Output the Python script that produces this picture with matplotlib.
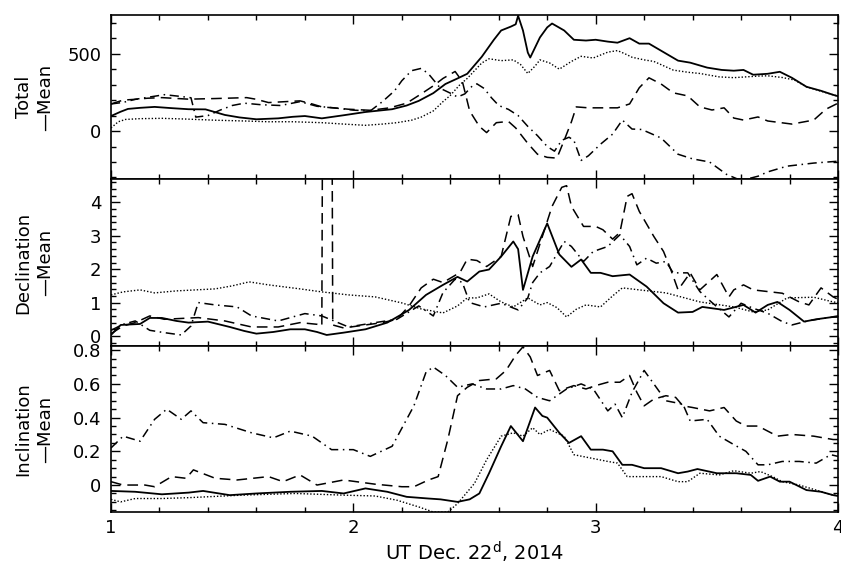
import numpy as np
import matplotlib
matplotlib.use("Agg")
import matplotlib.pyplot as plt
from matplotlib.ticker import MultipleLocator

plt.rcParams['font.family'] = ['DejaVu Sans']

# ---- Total - Mean ----
tot_solid_x = [1.00, 1.04, 1.07, 1.12, 1.18, 1.25, 1.32, 1.39, 1.43, 1.47, 1.53, 1.60, 1.69, 1.75, 1.80, 1.87,
               1.96, 2.05, 2.16, 2.22, 2.27, 2.33, 2.38, 2.43, 2.47, 2.53, 2.58, 2.61, 2.65, 2.67, 2.68, 2.70,
               2.72, 2.73, 2.77, 2.80, 2.82, 2.87, 2.91, 2.96, 3.00, 3.05, 3.09, 3.14, 3.18, 3.22, 3.28, 3.34,
               3.39, 3.46, 3.52, 3.57, 3.61, 3.65, 3.71, 3.76, 3.81, 3.87, 3.93, 3.98, 4.00]
tot_solid_y = [97, 125, 143, 150, 156, 148, 141, 140, 122, 104, 88, 76, 82, 92, 97, 82,
               102, 123, 141, 165, 195, 245, 304, 340, 370, 480, 590, 650, 675, 690, 745, 650,
               507, 475, 605, 670, 695, 650, 590, 585, 590, 578, 571, 600, 565, 565, 510, 455,
               442, 410, 395, 390, 395, 364, 370, 383, 344, 286, 260, 234, 225]

tot_dot_x = [1.00, 1.03, 1.06, 1.12, 1.21, 1.30, 1.43, 1.55, 1.65, 1.75, 1.87, 1.96, 2.05, 2.12, 2.18, 2.24,
             2.28, 2.33, 2.37, 2.40, 2.44, 2.47, 2.50, 2.53, 2.56, 2.61, 2.66, 2.69, 2.72, 2.75, 2.77, 2.81,
             2.85, 2.90, 2.94, 2.99, 3.05, 3.09, 3.12, 3.15, 3.20, 3.24, 3.32, 3.38, 3.43, 3.51, 3.57, 3.62,
             3.67, 3.71, 3.77, 3.82, 3.87, 3.92, 3.98, 4.00]
tot_dot_y = [20, 60, 75, 80, 82, 78, 70, 65, 60, 60, 54, 45, 37, 45, 54, 70,
             90, 130, 190, 230, 300, 340, 390, 440, 467, 455, 460, 430, 372, 420, 460, 440,
             400, 450, 483, 472, 510, 520, 500, 477, 460, 450, 394, 380, 372, 350, 345, 350,
             355, 357, 346, 330, 286, 262, 234, 225]

tot_dash_x = [1.00, 1.05, 1.10, 1.15, 1.21, 1.32, 1.43, 1.56, 1.60, 1.65, 1.72, 1.78, 1.83, 1.87, 1.93, 1.98,
              2.07, 2.15, 2.22, 2.28, 2.33, 2.37, 2.42, 2.45, 2.48, 2.52, 2.55, 2.59, 2.64, 2.67, 2.72, 2.76,
              2.80, 2.84, 2.87, 2.90, 2.92, 2.97, 3.02, 3.09, 3.14, 3.18, 3.22, 3.27, 3.32, 3.38, 3.43, 3.48,
              3.53, 3.57, 3.61, 3.67, 3.71, 3.81, 3.90, 3.95, 4.00]
tot_dash_y = [175, 200, 205, 212, 216, 206, 210, 216, 205, 184, 190, 195, 175, 156, 148, 141,
              134, 150, 180, 240, 292, 340, 385, 320, 130, 30, -10, 54, 62, 20, -80, -150,
              -170, -175, -60, 60, 156, 150, 150, 150, 175, 280, 344, 304, 247, 227, 156, 136,
              150, 84, 71, 91, 65, 45, 71, 141, 180]

tot_dd_x = [1.00, 1.05, 1.10, 1.16, 1.22, 1.28, 1.33, 1.35, 1.40, 1.45, 1.50, 1.55, 1.62, 1.70, 1.78, 1.85,
            1.92, 2.00, 2.07, 2.12, 2.17, 2.20, 2.24, 2.28, 2.31, 2.36, 2.40, 2.43, 2.46, 2.49, 2.51, 2.54,
            2.57, 2.60, 2.64, 2.68, 2.72, 2.76, 2.80, 2.83, 2.86, 2.89, 2.91, 2.94, 2.97, 3.02, 3.07, 3.11,
            3.15, 3.19, 3.27, 3.34, 3.40, 3.47, 3.54, 3.60, 3.67, 3.71, 3.79, 3.90, 4.00]
tot_dd_y = [175, 185, 205, 220, 235, 225, 215, 90, 100, 135, 165, 180, 170, 165, 190, 160,
            150, 135, 130, 190, 260, 325, 390, 405, 370, 275, 245, 220, 240, 290, 305, 275,
            215, 165, 140, 100, 30, -30, -100, -130, -60, -40, -60, -190, -160, -85, -20, 71,
            13, 10, -45, -150, -180, -200, -280, -320, -292, -264, -227, -207, -195]

# ---- Declination - Mean ----
dec_solid_x = [1.00, 1.04, 1.12, 1.16, 1.21, 1.27, 1.32, 1.40, 1.49, 1.55, 1.60, 1.67, 1.74, 1.80, 1.85, 1.89,
               1.96, 2.05, 2.14, 2.20, 2.23, 2.30, 2.37, 2.43, 2.47, 2.52, 2.56, 2.61, 2.66, 2.68, 2.70, 2.74,
               2.80, 2.85, 2.90, 2.94, 2.98, 3.02, 3.07, 3.14, 3.21, 3.28, 3.34, 3.40, 3.44, 3.53, 3.61, 3.66,
               3.71, 3.75, 3.80, 3.86, 3.91, 3.98, 4.00]
dec_solid_y = [0.03, 0.33, 0.36, 0.54, 0.54, 0.45, 0.40, 0.43, 0.27, 0.15, 0.07, 0.12, 0.20, 0.20, 0.12, 0.03,
               0.10, 0.20, 0.40, 0.65, 0.78, 1.23, 1.53, 1.77, 1.63, 1.93, 1.99, 2.38, 2.83, 2.60, 1.38, 2.38,
               3.37, 2.44, 2.07, 2.29, 1.89, 1.89, 1.79, 1.84, 1.48, 0.98, 0.70, 0.72, 0.87, 0.78, 0.93, 0.70,
               0.93, 1.02, 0.78, 0.43, 0.50, 0.57, 0.57]

dec_dot_x = [1.00, 1.05, 1.12, 1.18, 1.27, 1.43, 1.50, 1.57, 1.65, 1.78, 1.87, 1.98, 2.09, 2.20, 2.28, 2.37,
             2.43, 2.47, 2.51, 2.56, 2.61, 2.66, 2.72, 2.77, 2.80, 2.84, 2.88, 2.92, 2.96, 3.02, 3.07, 3.11,
             3.18, 3.29, 3.43, 3.57, 3.65, 3.71, 3.79, 3.90, 3.98, 4.00]
dec_dot_y = [1.23, 1.32, 1.38, 1.29, 1.35, 1.41, 1.50, 1.62, 1.53, 1.41, 1.32, 1.23, 1.17, 0.99, 0.81, 0.69,
             0.90, 1.14, 1.14, 1.26, 1.02, 0.87, 1.14, 0.93, 1.00, 0.85, 0.57, 0.80, 0.93, 0.87, 1.20, 1.44,
             1.38, 1.29, 1.02, 0.87, 0.72, 0.78, 1.14, 1.16, 1.02, 1.00]

dec_dash_x = [1.00, 1.05, 1.10, 1.16, 1.22, 1.36, 1.47, 1.58, 1.69, 1.78, 1.85, 1.87, 1.874, 1.911, 1.915, 1.96,
              2.05, 2.12, 2.18, 2.23, 2.28, 2.33, 2.37, 2.44, 2.47, 2.51, 2.55, 2.61, 2.65, 2.68, 2.70, 2.74,
              2.78, 2.82, 2.86, 2.88, 2.90, 2.95, 3.00, 3.03, 3.07, 3.10, 3.13, 3.15, 3.18, 3.24, 3.28, 3.31,
              3.34, 3.39, 3.43, 3.50, 3.55, 3.57, 3.61, 3.65, 3.71, 3.77, 3.84, 3.88, 3.93, 3.98, 4.00]
dec_dash_y = [0.07, 0.30, 0.40, 0.60, 0.50, 0.55, 0.45, 0.27, 0.27, 0.40, 0.35, 0.30, 9.0, 9.0, 0.33, 0.24,
              0.33, 0.40, 0.50, 0.90, 1.44, 1.70, 1.60, 1.90, 2.30, 2.26, 2.08, 2.38, 3.58, 3.63, 2.98, 2.08,
              2.98, 3.88, 4.45, 4.50, 3.88, 3.28, 3.28, 3.18, 2.90, 3.10, 4.18, 4.26, 3.73, 2.98, 2.53, 1.99,
              1.38, 1.89, 1.38, 1.84, 1.17, 1.38, 1.53, 1.38, 1.33, 1.28, 1.02, 0.93, 1.44, 1.17, 1.10]

dec_dd_x = [1.00, 1.05, 1.10, 1.16, 1.22, 1.29, 1.33, 1.36, 1.43, 1.52, 1.58, 1.69, 1.80, 1.87, 1.98, 2.09,
            2.18, 2.27, 2.33, 2.37, 2.42, 2.45, 2.48, 2.54, 2.61, 2.68, 2.72, 2.74, 2.77, 2.81, 2.87, 2.90,
            2.95, 2.99, 3.05, 3.10, 3.14, 3.17, 3.21, 3.25, 3.29, 3.32, 3.38, 3.43, 3.48, 3.55, 3.60, 3.65,
            3.71, 3.77, 3.81, 3.88, 3.98, 4.00]
dec_dd_y = [0.17, 0.35, 0.45, 0.17, 0.10, 0.03, 0.30, 1.00, 0.93, 0.87, 0.60, 0.45, 0.67, 0.60, 0.27, 0.40,
            0.50, 0.90, 0.60, 1.30, 1.70, 1.60, 1.00, 0.87, 0.98, 0.78, 1.14, 1.60, 1.89, 2.08, 2.83, 2.68,
            2.23, 2.53, 2.68, 3.03, 2.68, 2.13, 2.33, 2.18, 2.23, 1.89, 1.89, 1.33, 1.00, 0.57, 0.98, 0.83,
            0.68, 0.43, 0.33, 0.46, 0.57, 0.60]

# ---- Inclination - Mean ----
inc_solid_x = [1.00, 1.10, 1.21, 1.32, 1.38, 1.49, 1.60, 1.74, 1.87, 1.96, 2.05, 2.14, 2.22, 2.31, 2.36, 2.43,
               2.48, 2.52, 2.56, 2.61, 2.65, 2.70, 2.75, 2.78, 2.80, 2.85, 2.89, 2.94, 2.98, 3.03, 3.07, 3.11,
               3.15, 3.20, 3.27, 3.34, 3.38, 3.42, 3.50, 3.58, 3.64, 3.67, 3.72, 3.76, 3.80, 3.87, 3.93, 3.98,
               4.00]
inc_solid_y = [-0.035, -0.04, -0.055, -0.045, -0.035, -0.06, -0.05, -0.04, -0.035, -0.05, -0.02, -0.04, -0.07, -0.08, -0.085, -0.10,
               -0.085, -0.05, 0.07, 0.23, 0.35, 0.26, 0.46, 0.41, 0.40, 0.31, 0.25, 0.29, 0.21, 0.21, 0.20, 0.12,
               0.12, 0.10, 0.10, 0.07, 0.08, 0.095, 0.07, 0.07, 0.06, 0.025, 0.05, 0.02, 0.02, -0.03, -0.04, -0.06,
               -0.065]

inc_dot_x = [1.00, 1.04, 1.10, 1.21, 1.32, 1.54, 1.76, 1.96, 2.09, 2.18, 2.27, 2.33, 2.39, 2.43, 2.50, 2.55,
             2.61, 2.66, 2.70, 2.74, 2.77, 2.81, 2.87, 2.91, 2.98, 3.05, 3.09, 3.13, 3.20, 3.27, 3.34, 3.38,
             3.43, 3.51, 3.57, 3.64, 3.68, 3.73, 3.77, 3.84, 3.91, 3.98, 4.00]
inc_dot_y = [-0.085, -0.10, -0.08, -0.08, -0.075, -0.06, -0.05, -0.06, -0.065, -0.09, -0.13, -0.16, -0.16, -0.11, 0.01, 0.15,
             0.29, 0.31, 0.29, 0.34, 0.30, 0.33, 0.29, 0.18, 0.16, 0.14, 0.13, 0.05, 0.05, 0.05, 0.02, 0.02,
             0.07, 0.06, 0.085, 0.07, 0.08, 0.05, 0.02, 0.00, -0.03, -0.06, -0.06]

inc_dash_x = [1.00, 1.05, 1.14, 1.18, 1.25, 1.31, 1.34, 1.43, 1.52, 1.65, 1.71, 1.78, 1.85, 1.96, 2.09, 2.20,
              2.25, 2.31, 2.35, 2.39, 2.43, 2.47, 2.52, 2.59, 2.63, 2.67, 2.70, 2.73, 2.76, 2.81, 2.85, 2.91,
              2.96, 3.00, 3.05, 3.10, 3.14, 3.17, 3.20, 3.24, 3.29, 3.33, 3.36, 3.40, 3.47, 3.53, 3.58, 3.62,
              3.67, 3.75, 3.81, 3.90, 3.98, 4.00]
inc_dash_y = [0.02, 0.00, 0.00, -0.01, 0.05, 0.04, 0.09, 0.04, 0.03, 0.05, 0.02, 0.06, 0.00, 0.03, 0.005, -0.01,
              -0.01, 0.03, 0.05, 0.27, 0.53, 0.58, 0.62, 0.63, 0.68, 0.77, 0.82, 0.76, 0.65, 0.68, 0.56, 0.59,
              0.57, 0.59, 0.61, 0.61, 0.65, 0.55, 0.47, 0.51, 0.53, 0.52, 0.47, 0.46, 0.44, 0.46, 0.38, 0.35,
              0.35, 0.29, 0.30, 0.29, 0.27, 0.27]

inc_dd_x = [1.00, 1.05, 1.12, 1.18, 1.23, 1.29, 1.33, 1.38, 1.47, 1.58, 1.67, 1.74, 1.83, 1.91, 2.00, 2.07,
            2.16, 2.22, 2.25, 2.30, 2.33, 2.38, 2.43, 2.49, 2.55, 2.61, 2.66, 2.71, 2.76, 2.81, 2.88, 2.94,
            2.99, 3.05, 3.08, 3.11, 3.15, 3.20, 3.24, 3.29, 3.36, 3.39, 3.46, 3.51, 3.57, 3.62, 3.67, 3.71,
            3.77, 3.84, 3.91, 3.97, 4.00]
inc_dd_y = [0.22, 0.29, 0.26, 0.39, 0.45, 0.39, 0.44, 0.37, 0.36, 0.31, 0.28, 0.32, 0.29, 0.21, 0.21, 0.17,
            0.23, 0.39, 0.47, 0.67, 0.70, 0.65, 0.58, 0.60, 0.57, 0.57, 0.59, 0.57, 0.52, 0.50, 0.57, 0.60,
            0.57, 0.44, 0.48, 0.40, 0.55, 0.68, 0.60, 0.50, 0.48, 0.38, 0.39, 0.29, 0.24, 0.20, 0.12, 0.12,
            0.14, 0.14, 0.13, 0.18, 0.17]

panels = [
    ("Total\n\u2014Mean", (-310, 750), 500, 100, [500, 0],
     [(tot_solid_x, tot_solid_y), (tot_dot_x, tot_dot_y), (tot_dash_x, tot_dash_y), (tot_dd_x, tot_dd_y)]),
    ("Declination\n\u2014Mean", (-0.3, 4.7), 1, 0.2, [0, 1, 2, 3, 4],
     [(dec_solid_x, dec_solid_y), (dec_dot_x, dec_dot_y), (dec_dash_x, dec_dash_y), (dec_dd_x, dec_dd_y)]),
    ("Inclination\n\u2014Mean", (-0.16, 0.825), 0.2, 0.05, [0, 0.2, 0.4, 0.6, 0.8],
     [(inc_solid_x, inc_solid_y), (inc_dot_x, inc_dot_y), (inc_dash_x, inc_dash_y), (inc_dd_x, inc_dd_y)]),
]

styles = [
    dict(linestyle='-', linewidth=1.3),
    dict(linestyle=(0, (1, 1.4)), linewidth=1.0),
    dict(linestyle=(0, (7, 4)), linewidth=1.1),
    dict(linestyle=(0, (6, 3, 1, 3)), linewidth=1.1),
]

fig = plt.figure(figsize=(8.41, 5.71), dpi=100)
W, H = 841.0, 571.0
left, right = 111, 838
edges = [(15, 179), (179, 346), (346, 512)]

for i, (label, ylim, major, minor, ticks, series) in enumerate(panels):
    top, bot = edges[i]
    ax = fig.add_axes([left / W, 1 - bot / H, (right - left) / W, (bot - top) / H])
    for (xs, ys), st in zip(series, styles):
        ax.plot(xs, ys, color='black', **st)
    ax.set_xlim(1, 4)
    ax.set_ylim(*ylim)
    ax.set_yticks(ticks)
    if major >= 1:
        ax.set_yticklabels([f"{t:g}" for t in ticks])
    else:
        ax.set_yticklabels(["0" if t == 0 else f"{t:.1f}" for t in ticks])
    ax.yaxis.set_minor_locator(MultipleLocator(minor))
    ax.xaxis.set_major_locator(MultipleLocator(1))
    ax.xaxis.set_minor_locator(MultipleLocator(0.2))
    ax.tick_params(which='both', direction='in', top=True, right=True, width=1.0)
    ax.tick_params(which='major', length=6.5, labelsize=13, pad=7)
    ax.tick_params(which='minor', length=3.5)
    for sp in ax.spines.values():
        sp.set_linewidth(1.2)
    if i < 2:
        ax.tick_params(labelbottom=False)
    else:
        ax.tick_params(axis='x', pad=5)
        ax.set_xlabel(r"UT Dec. 22$^{\rm d}$, 2014", fontsize=14, labelpad=2)
    fig.text(0.041, 1 - (top + bot) / 2 / H, label, rotation=90, ha='center', va='center',
             multialignment='center', fontsize=13, linespacing=1.25)

fig.savefig("out.png", dpi=100)
